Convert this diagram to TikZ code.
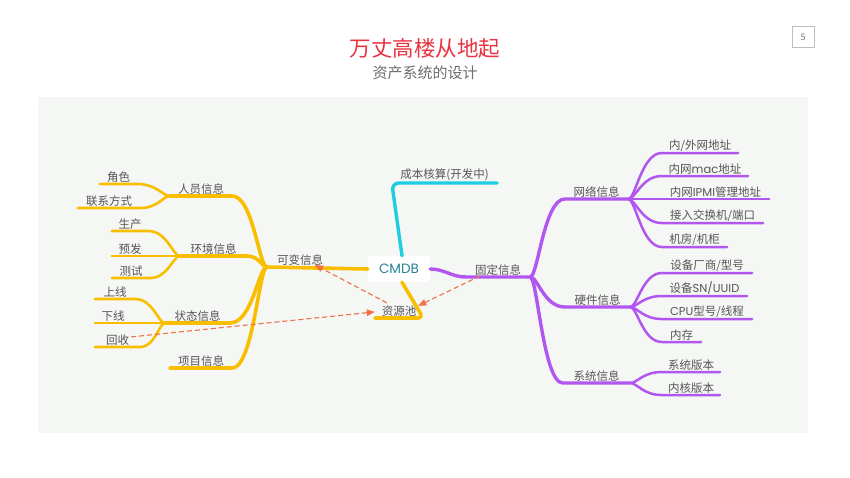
\documentclass[tikz,border=0pt]{standalone}
\usepackage{fontspec}
\setmainfont{Noto Sans CJK SC}
\newfontfamily\lat{Poppins}
\usetikzlibrary{arrows.meta,calc}
\definecolor{ylw}{RGB}{250,190,0}
\definecolor{prp}{RGB}{178,86,240}
\definecolor{cyn}{RGB}{30,205,225}
\definecolor{txt}{RGB}{85,85,85}
\definecolor{ttl}{RGB}{232,52,64}
\definecolor{sub}{RGB}{110,110,110}
\definecolor{bgp}{RGB}{245,247,245}
\definecolor{dsh}{RGB}{240,112,72}
\definecolor{teal}{RGB}{40,130,150}
\newcommand\tnode[5]{\node[lbl,minimum width=#4pt] (#1) at (#2,#3) {#5};}
\begin{document}
\begin{tikzpicture}[x=1pt,y=-1pt,
  lbl/.style={anchor=south,inner xsep=0pt,inner ysep=1.6pt,text=txt,font=\fontsize{11.5}{13}\selectfont},
  ymain/.style={draw=ylw,line width=3.6pt,line cap=round,line join=round},
  yleaf/.style={draw=ylw,line width=2.6pt,line cap=round,line join=round},
  pmain/.style={draw=prp,line width=3.4pt,line cap=round,line join=round},
  pleaf/.style={draw=prp,line width=2.5pt,line cap=round,line join=round},
  cmain/.style={draw=cyn,line width=3.4pt,line cap=round,line join=round},
  brL/.style={to path={let \p1=(\tikztostart), \p2=(\tikztotarget) in
     .. controls ({\x1+0.6*(\x2-\x1)},\y1) and ({\x2-0.22*(\x2-\x1)},\y2) .. (\tikztotarget)}},
  brR/.style={to path={let \p1=(\tikztostart), \p2=(\tikztotarget) in
     .. controls ({\x1+0.22*(\x2-\x1)},\y1) and ({\x2-0.6*(\x2-\x1)},\y2) .. (\tikztotarget)}},
  darr/.style={draw=dsh,line width=1.1pt,dash pattern=on 5pt off 3pt,-{Triangle[length=8pt,width=6.5pt]}}]
\useasboundingbox (0,0) rectangle (850,477);
\fill[white] (0,0) rectangle (850,477);
\fill[bgp] (38,97) rectangle (808,433);
% title
\node[text=ttl,font=\fontsize{21.5}{24}\selectfont] (title) at (425,48) {万丈高楼从地起};
\node[text=sub,font=\fontsize{15}{17}\selectfont] (subtitle) at (425,73) {资产系统的设计};
\node[draw=black!25,line width=0.6pt,minimum width=22pt,minimum height=21pt,inner sep=0pt,text=black!55,font=\fontsize{9}{10}\selectfont] (pg) at (803,37) {5};
% center
\node[fill=white,rounded corners=3pt,minimum width=62pt,minimum height=26pt,inner sep=0pt,text=teal,font=\lat\fontsize{13.5}{15}\selectfont] (cmdb) at (399,269) {CMDB};
% left labels
\tnode{kb}{300}{267}{66}{可变信息}
\tnode{ry}{201}{196}{62}{人员信息}
\tnode{js}{118.5}{184}{37}{角色}
\tnode{lx}{109}{208}{62}{联系方式}
\tnode{hj}{213.5}{256}{67}{环境信息}
\tnode{sc}{130}{231}{36}{生产}
\tnode{yf}{130}{256}{36}{预发}
\tnode{cs}{131}{278}{38}{测试}
\tnode{zt}{197.5}{323}{65}{状态信息}
\tnode{sx}{115}{299}{40}{上线}
\tnode{xx}{113}{323}{36}{下线}
\tnode{hs}{117.5}{347}{45}{回收}
\tnode{xm}{201}{368}{62}{项目信息}
% right labels
\tnode{gd}{498}{277}{64}{固定信息}
\tnode{wl}{596.5}{199}{63}{网络信息}
\tnode{c1}{700}{153}{76}{内/外网地址}
\tnode{c2}{705}{176}{86}{内网{\lat mac}地址}
\tnode{c3}{715.5}{199}{107}{内网{\lat IPMI}管理地址}
\tnode{c4}{712.5}{223}{101}{接入交换机/端口}
\tnode{c5}{694.5}{247}{65}{机房/机柜}
\tnode{yj}{597.5}{307}{65}{硬件信息}
\tnode{d1}{707}{273}{90}{设备厂商/型号}
\tnode{d2}{704.5}{296}{85}{设备{\lat SN/UUID}}
\tnode{d3}{707}{319}{90}{{\lat CPU}型号/线程}
\tnode{d4}{681.5}{342}{39}{内存}
\tnode{xt}{596.5}{383}{67}{系统信息}
\tnode{e1}{691}{372}{58}{系统版本}
\tnode{e2}{691}{395}{58}{内核版本}
% top / bottom
\tnode{cb}{444.5}{183}{105}{成本核算(开发中)}
\tnode{zy}{399}{318}{48}{资源池}
% yellow branches
\draw[ymain] (kb.south west) -- (cmdb.west);
\foreach \a in {ry,hj,zt,xm}
  \draw[ymain] (\a.south west) -- (\a.south east) to[brL] (kb.south west);
\foreach \a/\b in {js/ry,lx/ry,sc/hj,yf/hj,cs/hj,sx/zt,xx/zt,hs/zt}
  \draw[yleaf] (\a.south west) -- (\a.south east) to[brL] (\b.south west);
\draw[ymain,rounded corners=5pt] ([xshift=3pt]cmdb.south) -- (zy.south east) -- (zy.south west);
% cyan
\draw[cmain,rounded corners=7pt] ([xshift=3pt]cmdb.north) -- (cb.south west) -- (cb.south east);
% purple
\draw[pmain] (cmdb.east) to[out=0,in=180] (gd.south west) -- (gd.south east);
\foreach \a in {wl,yj,xt}
  \draw[pmain] (gd.south east) to[brR] (\a.south west) -- (\a.south east);
\foreach \a/\b in {c1/wl,c2/wl,c3/wl,c4/wl,c5/wl,d1/yj,d2/yj,d3/yj,d4/yj,e1/xt,e2/xt}
  \draw[pleaf] (\b.south east) to[brR] (\a.south west) -- (\a.south east);
% dashed arrows
\draw[darr] ([xshift=12pt,yshift=1pt]zy.north west) -- ([xshift=15pt,yshift=2pt]kb.south);
\draw[darr] ([xshift=-18pt,yshift=1pt]gd.south) -- ([xshift=-5pt,yshift=-2pt]zy.north east);
\draw[darr] ([xshift=-9pt,yshift=3pt]hs.east) -- ([yshift=-1pt]zy.west);
\end{tikzpicture}
\end{document}
